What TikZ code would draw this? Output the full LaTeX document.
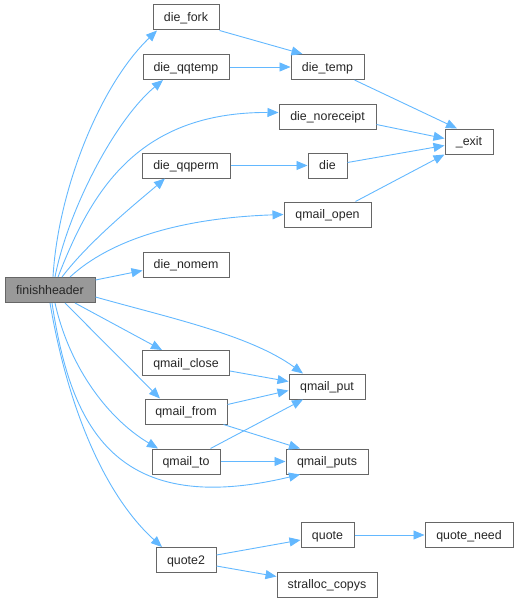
\documentclass[tikz,border=0pt]{standalone}
\usepackage{fontspec}
\setmainfont{Liberation Sans}
\usetikzlibrary{arrows.meta}
\definecolor{edgeblue}{HTML}{63B8FF}
\definecolor{boxgray}{HTML}{666666}
\definecolor{fillgray}{HTML}{999999}
\tikzset{
  fn/.style={draw=boxgray, fill=white, line width=1pt, minimum height=25pt, inner sep=0pt,
    text height=9pt, text depth=1pt,
    font=\fontsize{12.4}{14}\selectfont, text=black!85},
  root/.style={fn, fill=fillgray},
  edge/.style={draw=edgeblue, line width=0.9pt, -{Triangle[length=11pt,width=9pt]}},
}
\begin{document}
\begin{tikzpicture}[x=1pt,y=-1pt]
\useasboundingbox (0,0) rectangle (518,602);
% nodes
\node[root, minimum width=90pt] (fh) at (50,290) {finishheader};
\node[fn, minimum width=66pt] (fork) at (186,17.5) {die\_fork};
\node[fn, minimum width=86pt] (qqtemp) at (186,67) {die\_qqtemp};
\node[fn, minimum width=88pt] (qqperm) at (186,165.5) {die\_qqperm};
\node[fn, minimum width=86pt] (nomem) at (186,264.5) {die\_nomem};
\node[fn, minimum width=87pt] (close) at (186,363) {qmail\_close};
\node[fn, minimum width=82pt] (from) at (186,411.5) {qmail\_from};
\node[fn, minimum width=68pt] (to) at (186,461.5) {qmail\_to};
\node[fn, minimum width=60pt] (quotetwo) at (186,560) {quote2};
\node[fn, minimum width=73pt] (temp) at (327.5,67) {die\_temp};
\node[fn, minimum width=97pt] (norec) at (327.5,116.5) {die\_noreceipt};
\node[fn, minimum width=39pt] (die) at (327.5,165.5) {die};
\node[fn, minimum width=87pt] (open) at (327.5,214.5) {qmail\_open};
\node[fn, minimum width=48pt] (exit) at (469,141.5) {\_exit};
\node[fn, minimum width=76pt] (put) at (327,386.5) {qmail\_put};
\node[fn, minimum width=82pt] (puts) at (327,461.5) {qmail\_puts};
\node[fn, minimum width=53pt] (quote) at (327.5,535) {quote};
\node[fn, minimum width=88pt] (need) at (469,535) {quote\_need};
\node[fn, minimum width=100pt] (copys) at (327,584.5) {stralloc\_copys};
% edges from finishheader (curved)
\draw[edge] ([xshift=3]fh.north) .. controls (58,190) and (100,85) .. ([xshift=-29]fork.south);
\draw[edge] ([xshift=5]fh.north) .. controls (68,210) and (115,120) .. ([xshift=-23]qqtemp.south);
\draw[edge] ([xshift=8]fh.north) .. controls (90,195) and (135,112) .. ([yshift=4]norec.west);
\draw[edge] ([xshift=12]fh.north) .. controls (90,240) and (140,200) .. ([xshift=-21]qqperm.south);
\draw[edge] ([xshift=20]fh.north) .. controls (110,240) and (180,218) .. (open.west);
\draw[edge] ([yshift=10]fh.east) -- ([yshift=-6]nomem.west);
\draw[edge] ([yshift=-7]fh.east) .. controls (170,318) and (250,335) .. ([xshift=-24]put.north);
\draw[edge] ([xshift=25]fh.south) -- ([xshift=-24]close.north);
\draw[edge] ([xshift=15]fh.south) -- ([xshift=-26]from.north);
\draw[edge] ([xshift=5]fh.south) .. controls (70,370) and (110,420) .. ([xshift=-28]to.north);
\draw[edge] ([xshift=2]fh.south) .. controls (70,420) and (110,520) .. ([xshift=-27]puts.south);
\draw[edge] (fh.south) .. controls (70,420) and (110,500) .. ([xshift=-24]quotetwo.north);
% other edges
\draw[edge] (fork.south east) -- ([xshift=-25]temp.north);
\draw[edge] (qqtemp) -- (temp);
\draw[edge] ([xshift=-10]temp.south east) -- ([xshift=-12]exit.north);
\draw[edge] ([yshift=-8]norec.east) -- ([yshift=3]exit.west);
\draw[edge] (qqperm) -- (die);
\draw[edge] ([yshift=3]die.east) -- ([yshift=-4]exit.west);
\draw[edge] ([xshift=-16]open.north east) -- (exit.south west);
\draw[edge] ([yshift=-8]close.east) -- ([yshift=5]put.west);
\draw[edge] ([yshift=7]from.east) -- ([yshift=-4]put.west);
\draw[edge] ([xshift=-4]from.south east) -- ([xshift=-27]puts.north);
\draw[edge] ([xshift=-10]to.north east) -- ([xshift=-24]put.south);
\draw[edge] (to) -- (puts);
\draw[edge] ([yshift=5]quotetwo.east) -- ([yshift=-5]quote.west);
\draw[edge] ([yshift=-6]quotetwo.east) -- ([yshift=8]copys.west);
\draw[edge] (quote) -- (need);
\end{tikzpicture}
\end{document}
